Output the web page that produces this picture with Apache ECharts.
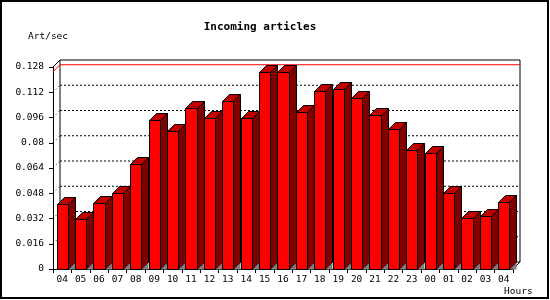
<!DOCTYPE html>
<html>
<head>
<meta charset="utf-8">
<script src="https://cdn.jsdelivr.net/npm/echarts@6/dist/echarts.min.js"></script>
<style>
html,body{margin:0;padding:0;background:#fff;}
#chart{width:550px;height:300px;}
</style>
</head>
<body>
<div id="chart"></div>
<script>
var titleText = 'Incoming articles';
var yAxisName = 'Art/sec';
var xAxisName = 'Hours';
var hours = ['04','05','06','07','08','09','10','11','12','13','14','15','16','17','18','19','20','21','22','23','00','01','02','03','04'];
var rates = [0.0415,0.0318,0.042,0.0479,0.0667,0.0941,0.0872,0.1022,0.0954,0.1062,0.0960,0.125,0.125,0.0998,0.1125,0.1138,0.1081,0.0973,0.0884,0.0751,0.0737,0.0479,0.0325,0.0339,0.0422];
var yTicks = [0,0.016,0.032,0.048,0.064,0.08,0.096,0.112,0.128];

var FONT = 'DejaVu Sans Mono';
var D = 7; // 3D depth in pixels
var maxRate = Math.max.apply(null, rates);

var chart = echarts.init(document.getElementById('chart'), null, {renderer:'canvas'});

function wallItem(params, api) {
  var cs = params.coordSys;
  var v = api.value(0);
  var kind = api.value(1);
  var p = api.coord([0, v]);
  var y = p[1];
  var x0 = cs.x, x1 = cs.x + cs.width;
  var children = [];
  if (kind === 0) {
    var yTop = api.coord([0, yTicks[yTicks.length-1]])[1];
    var yBot = api.coord([0, 0])[1];
    children.push({type:'polyline', shape:{points:[[x0, yTop],[x0+D, yTop-D],[x1+D, yTop-D],[x1+D, yBot-D],[x1, yBot]]}, style:{stroke:'#000', lineWidth:1, fill:null}});
    children.push({type:'line', shape:{x1:x0+D, y1:yTop-D, x2:x0+D, y2:yBot-D}, style:{stroke:'#000', lineWidth:1}});
    children.push({type:'line', shape:{x1:x0+D, y1:yBot-D, x2:x1+D, y2:yBot-D}, style:{stroke:'#000', lineWidth:1}});
  } else if (kind === 1) {
    children.push({type:'line', shape:{x1:x0+D, y1:y-D, x2:x1+D, y2:y-D}, style:{stroke:'#000', lineWidth:1, lineDash:[2,2]}});
    children.push({type:'line', shape:{x1:x0, y1:y, x2:x0+D, y2:y-D}, style:{stroke:'#000', lineWidth:1, lineDash:[1,3]}});
  } else {
    children.push({type:'line', shape:{x1:x0+D, y1:y-D, x2:x1+D, y2:y-D}, style:{stroke:'#ff0000', lineWidth:1}});
    children.push({type:'line', shape:{x1:x0, y1:y, x2:x0+D, y2:y-D}, style:{stroke:'#ff0000', lineWidth:1}});
  }
  return {type:'group', children:children};
}

function barItem(params, api) {
  var idx = api.value(0);
  var top = api.coord([idx, api.value(1)]);
  var base = api.coord([idx, 0]);
  var band = api.size([1, 0])[0];
  var w = band * 0.6;
  var xl = Math.round(top[0] - w/2) + 0.5;
  var xr = Math.round(top[0] + w/2) + 0.5;
  var yt = Math.round(top[1]) + 0.5;
  var yb = Math.round(base[1]) + 0.5;
  var line = {stroke:'#000', lineWidth:1};
  return {type:'group', children:[
    {type:'polygon', shape:{points:[[xr,yt],[xr+D,yt-D],[xr+D,yb-D],[xr,yb]]}, style:Object.assign({fill:'#800000'}, line)},
    {type:'polygon', shape:{points:[[xr,yb],[xr+D,yb-D],[xr+D,yb]]}, style:{fill:'#808080', stroke:null}},
    {type:'polygon', shape:{points:[[xl,yt],[xl+D,yt-D],[xr+D,yt-D],[xr,yt]]}, style:Object.assign({fill:'#c00000'}, line)},
    {type:'rect', shape:{x:xl, y:yt, width:xr-xl, height:yb-yt}, style:Object.assign({fill:'#ff0000'}, line)}
  ]};
}

var wallData = [[0, 0]];
for (var i = 1; i < yTicks.length - 1; i++) wallData.push([yTicks[i], 1]);
wallData.push([maxRate, 2]);

var barData = rates.map(function(v, i){ return [i, v]; });

chart.setOption({
  animation:false,
  backgroundColor:'#fff',
  title:{text:titleText, left:260, top:22, textAlign:'center', padding:0,
    textStyle:{fontFamily:FONT, fontSize:11, fontWeight:'bold', color:'#000'}},
  grid:{left:53, right:37, top:67, bottom:31, containLabel:false},
  xAxis:{type:'category', data:hours, boundaryGap:true,
    axisLine:{lineStyle:{color:'#000', width:1}},
    axisTick:{show:true, length:4, alignWithLabel:false, lineStyle:{color:'#000'}},
    axisLabel:{interval:0, margin:6, fontFamily:FONT, fontSize:9.5, color:'#000'},
    splitLine:{show:false}},
  yAxis:{type:'value', min:0, max:0.128, interval:0.016,
    axisLine:{show:true, lineStyle:{color:'#000', width:1}},
    axisTick:{show:true, length:4, lineStyle:{color:'#000'}},
    axisLabel:{margin:9, fontFamily:FONT, fontSize:9.5, color:'#000',
      formatter:function(v){ return String(+v.toFixed(3)); }},
    splitLine:{show:false}},
  graphic:[
    {type:'rect', shape:{x:1, y:1, width:547, height:297}, style:{fill:null, stroke:'#000', lineWidth:2}, z:100},
    {type:'text', x:28, y:37, style:{text:yAxisName, font:'9.5px "DejaVu Sans Mono"', fill:'#000', textVerticalAlign:'middle'}},
    {type:'text', x:504, y:292, style:{text:xAxisName, font:'9.5px "DejaVu Sans Mono"', fill:'#000', textVerticalAlign:'middle'}}
  ],
  series:[
    {type:'custom', renderItem:wallItem, data:wallData, z:1, clip:false, silent:true,
      encode:{x:-1, y:0}},
    {type:'custom', renderItem:barItem, data:barData, z:2, clip:false, silent:true,
      encode:{x:0, y:1}}
  ]
});
</script>
</body>
</html>
